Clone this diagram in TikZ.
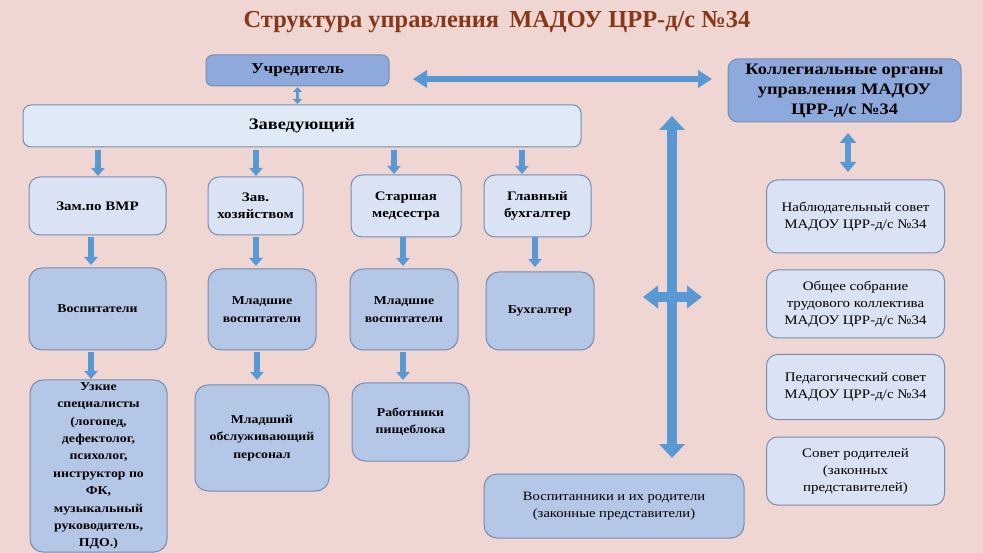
\documentclass[tikz,border=0pt]{standalone}
\usepackage{fontspec}
\setmainfont{Liberation Serif}[FakeStretch=1.15]
\newfontfamily\plainserif{Liberation Serif}
\usetikzlibrary{arrows.meta}
\definecolor{bg}{RGB}{240,214,211}
\definecolor{ttl}{RGB}{136,56,22}
\definecolor{dkfill}{RGB}{142,169,219}
\definecolor{mdfill}{RGB}{180,199,231}
\definecolor{ltfill}{RGB}{218,227,243}
\definecolor{vlfill}{RGB}{222,235,247}
\definecolor{bord}{RGB}{118,140,176}
\definecolor{arrb}{RGB}{88,152,211}
\tikzset{
  box/.style={draw=bord, line width=1pt, rounded corners=10pt, inner sep=0pt, outer sep=0pt, align=center, text=black},
  dkbox/.style={box, fill=dkfill, rounded corners=7pt},
  mdbox/.style={box, fill=mdfill, rounded corners=13pt},
  ltbox/.style={box, fill=ltfill, rounded corners=11pt},
  fA/.style={font=\fontsize{13}{17}\selectfont\bfseries},
  fB/.style={font=\fontsize{12}{17.4}\selectfont\bfseries},
  fR/.style={font=\fontsize{13}{17}\selectfont},
  darr/.style={draw=arrb, line width=5.5pt, -{Triangle[width=13pt,length=8pt]}},
  sdbl/.style={draw=arrb, line width=3.5pt, {Triangle[width=9pt,length=5pt]}-{Triangle[width=9pt,length=5pt]}},
  mdbl/.style={draw=arrb, line width=5.5pt, {Triangle[width=16pt,length=10pt]}-{Triangle[width=16pt,length=10pt]}},
  hdbl/.style={draw=arrb, line width=6pt, {Triangle[width=17pt,length=14pt]}-{Triangle[width=17pt,length=14pt]}},
  bdbl/.style={draw=arrb, line width=10.5pt, {Triangle[width=25pt,length=14pt]}-{Triangle[width=25pt,length=14pt]}},
  cdbl/.style={draw=arrb, line width=10pt, {Triangle[width=22pt,length=15pt]}-{Triangle[width=22pt,length=15pt]}},
}
\begin{document}
\begin{tikzpicture}[x=1pt,y=-1pt]
\fill[bg] (0,0) rectangle (983,553);
\useasboundingbox (0,0) rectangle (983,553);

\node[text=ttl, font=\plainserif\fontsize{24.4}{27}\selectfont\bfseries] (title) at (497,22) {Структура управления\, МАДОУ ЦРР-д/с №34};

\node[dkbox, minimum width=183pt, minimum height=31pt, font=\fontsize{15}{17}\selectfont\bfseries] (uch) at (297.5,70.5) {Учредитель};
\node[box, fill=vlfill, rounded corners=8pt, minimum width=558pt, minimum height=42pt, font=\fontsize{16}{18}\selectfont\bfseries] (zav) at (302,126) {Заведующий};
\node[dkbox, rounded corners=10pt, minimum width=233pt, minimum height=63pt, font=\fontsize{16}{20}\selectfont\bfseries] (kol) at (844.5,90.5) {Коллегиальные органы\\управления МАДОУ\\ЦРР-д/с №34};

% right column
\node[ltbox, minimum width=178pt, minimum height=73pt, fR] (r1) at (855.5,216.5) {Наблюдательный совет\\МАДОУ ЦРР-д/с №34};
\node[ltbox, minimum width=178pt, minimum height=68pt, fR] (r2) at (855.5,304) {Общее собрание\\трудового коллектива\\МАДОУ ЦРР-д/с №34};
\node[ltbox, minimum width=178pt, minimum height=65pt, fR] (r3) at (855.5,387) {Педагогический совет\\МАДОУ ЦРР-д/с №34};
\node[ltbox, minimum width=178pt, minimum height=68pt, fR] (r4) at (855.5,471) {Совет родителей\\(законных\\представителей)};

\node[mdbox, minimum width=260pt, minimum height=64pt, font=\fontsize{12.7}{17}\selectfont] (vos) at (614,506) {Воспитанники и их родители\\(законные представители)};

% level A
\node[ltbox, minimum width=137pt, minimum height=58pt, fA] (a1) at (97.5,206) {Зам.по ВМР};
\node[ltbox, minimum width=95pt, minimum height=58pt, fA] (a2) at (255.5,206) {Зав.\\хозяйством};
\node[ltbox, minimum width=110pt, minimum height=62pt, fA] (a3) at (406,206) {Старшая\\медсестра};
\node[ltbox, minimum width=107pt, minimum height=62pt, fA] (a4) at (537.5,206) {Главный\\бухгалтер};

% level B
\node[mdbox, minimum width=137pt, minimum height=82pt, fB] (b1) at (97.5,309) {Воспитатели};
\node[mdbox, minimum width=108pt, minimum height=81pt, fB] (b2) at (262,309.5) {Младшие\\воспитатели};
\node[mdbox, minimum width=108pt, minimum height=81pt, fB] (b3) at (404,309.5) {Младшие\\воспитатели};
\node[mdbox, minimum width=108pt, minimum height=78pt, fB] (b4) at (540,311) {Бухгалтер};

% level C
\node[mdbox, minimum width=137pt, minimum height=172pt, fB] (c1) at (98.5,466) {Узкие\\специалисты\\(логопед,\\дефектолог,\\психолог,\\инструктор по\\ФК,\\музыкальный\\руководитель,\\ПДО.)};
\node[mdbox, minimum width=134pt, minimum height=106pt, fB] (c2) at (262,438) {Младший\\обслуживающий\\персонал};
\node[mdbox, minimum width=117pt, minimum height=78pt, fB] (c3) at (410.5,422) {Работники\\пищеблока};

% column coordinates for arrows
\coordinate (k1) at (98,0);
\coordinate (k2) at (256,0);
\coordinate (k3) at (394,0);
\coordinate (k4) at (522,0);
\coordinate (m1) at (91,0);
\coordinate (m2) at (256,0);
\coordinate (m3) at (403,0);
\coordinate (m4) at (535,0);
\coordinate (n1) at (91,0);
\coordinate (n2) at (257,0);
\coordinate (n3) at (403,0);
\coordinate (kx) at (848,0);

\draw[darr, shorten <=3pt, shorten >=1pt] (zav.south -| k1) -- (a1.north -| k1);
\draw[darr, shorten <=3pt, shorten >=1pt] (zav.south -| k2) -- (a2.north -| k2);
\draw[darr, shorten <=3pt, shorten >=1pt] (zav.south -| k3) -- (a3.north -| k3);
\draw[darr, shorten <=3pt, shorten >=1pt] (zav.south -| k4) -- (a4.north -| k4);

\draw[darr, shorten <=2pt, shorten >=3pt] (a1.south -| m1) -- (b1.north -| m1);
\draw[darr, shorten <=2pt, shorten >=3pt] (a2.south -| m2) -- (b2.north -| m2);
\draw[darr, shorten <=0pt, shorten >=3pt] (a3.south -| m3) -- (b3.north -| m3);
\draw[darr, shorten <=0pt, shorten >=5pt] (a4.south -| m4) -- (b4.north -| m4);

\draw[darr, shorten <=2pt, shorten >=1pt] (b1.south -| n1) -- (c1.north -| n1);
\draw[darr, shorten <=2pt, shorten >=5pt] (b2.south -| n2) -- (c2.north -| n2);
\draw[darr, shorten <=2pt, shorten >=3pt] (b3.south -| n3) -- (c3.north -| n3);

\draw[sdbl, shorten <=1pt, shorten >=1pt] (uch.south) -- (zav.north -| uch.south);
\draw[mdbl, shorten <=11pt, shorten >=8pt] (kol.south -| kx) -- (r1.north -| kx);

% long arrows
\coordinate (hL) at (413,79);
\coordinate (hR) at (712,79);
\draw[hdbl] (hL) -- (hR);

\coordinate (vT) at (672,116);
\coordinate (vB) at (672,458);
\draw[bdbl] (vT) -- (vB);
\coordinate (cL) at (643,297);
\coordinate (cR) at (702,297);
\draw[cdbl] (cL) -- (cR);
\end{tikzpicture}
\end{document}
